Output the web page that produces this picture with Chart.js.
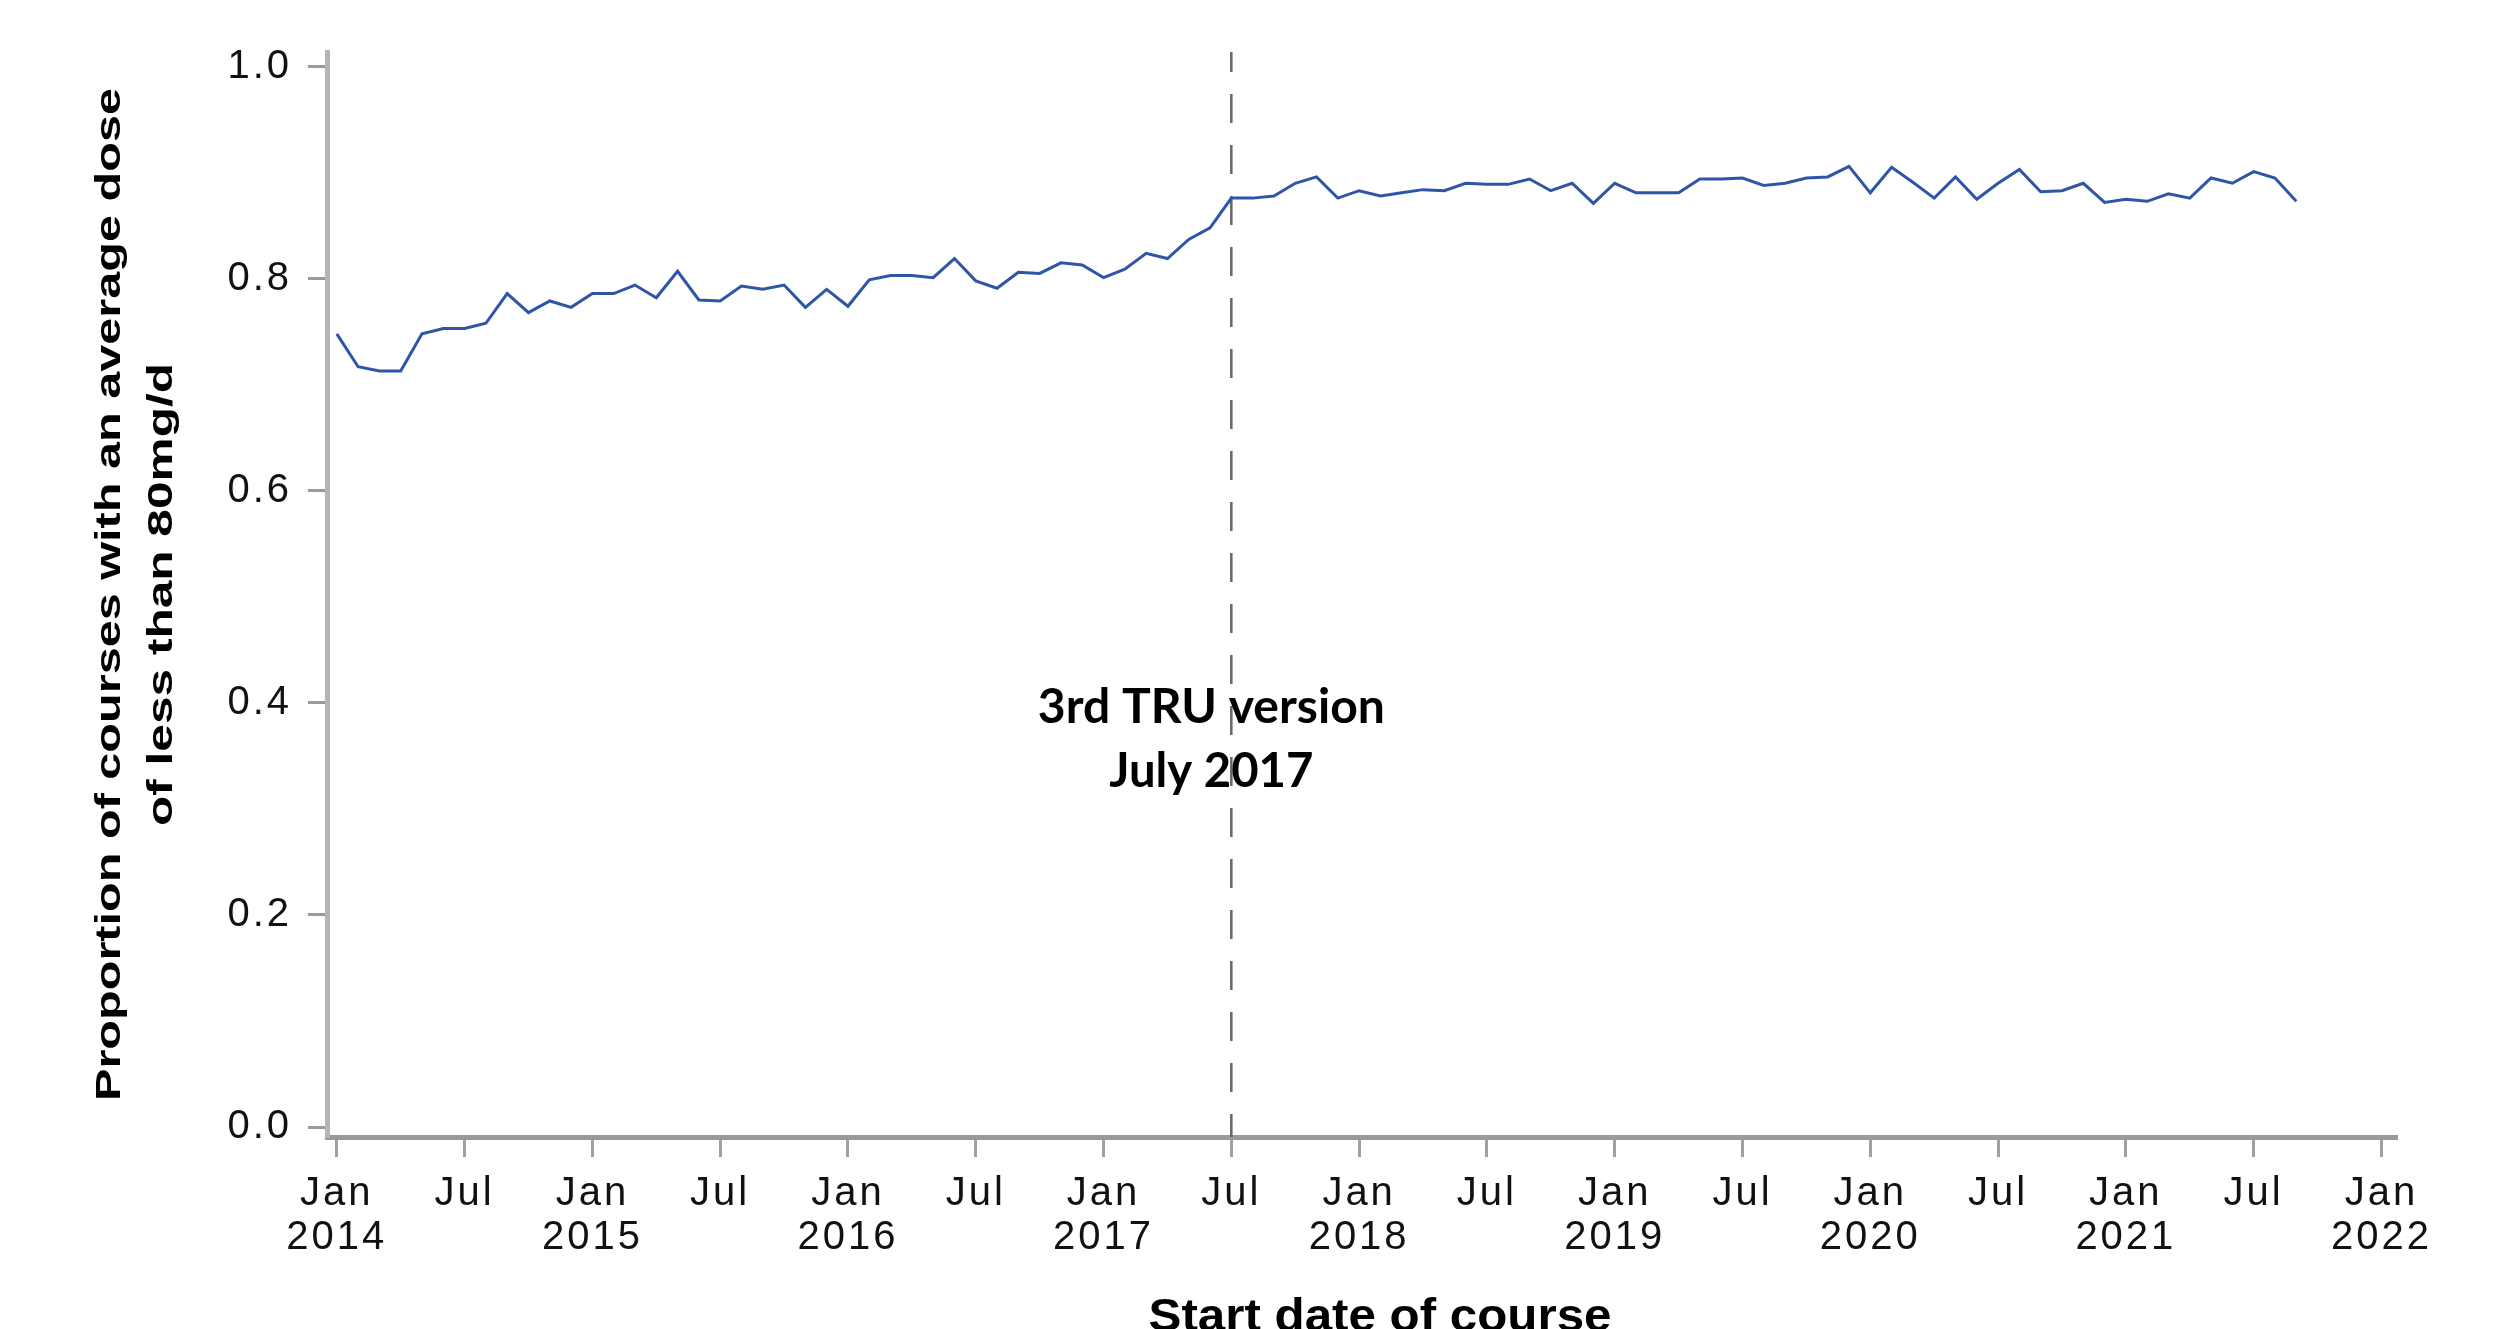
<!DOCTYPE html>
<html>
<head>
<meta charset="utf-8">
<script src="https://cdn.jsdelivr.net/npm/chart.js@4.4.1/dist/chart.umd.min.js"></script>
<style>
  html, body { margin: 0; padding: 0; background: #fff; }
  #wrap { width: 2503px; height: 1329px; position: relative; }
</style>
</head>
<body>
<div id="wrap"><canvas id="doseChart"></canvas></div>
<script>
// months counted from Jan 2014 (0 = Jan 2014)
const firstYear = 2014;
const proportion = [
    0.748, 0.717, 0.713, 0.713, 0.748, 0.753, 0.753, 0.758, 0.786, 0.768, 0.779, 0.773,
    0.786, 0.786, 0.794, 0.782, 0.807, 0.780, 0.779, 0.793, 0.790, 0.794, 0.773, 0.790,
    0.774, 0.799, 0.803, 0.803, 0.801, 0.819, 0.798, 0.791, 0.806, 0.805, 0.815, 0.813,
    0.801, 0.809, 0.824, 0.819, 0.837, 0.848, 0.876, 0.876, 0.878, 0.890, 0.896, 0.876,
    0.883, 0.878, 0.881, 0.884, 0.883, 0.890, 0.889, 0.889, 0.894, 0.883, 0.890, 0.871,
    0.890, 0.881, 0.881, 0.881, 0.894, 0.894, 0.895, 0.888, 0.890, 0.895, 0.896, 0.906,
    0.881, 0.905, 0.891, 0.876, 0.896, 0.875, 0.890, 0.903, 0.882, 0.883, 0.890, 0.872,
    0.875, 0.873, 0.880, 0.876, 0.895, 0.890, 0.901, 0.895, 0.873
];
const xTickMonths = [0, 6, 12, 18, 24, 30, 36, 42, 48, 54, 60, 66, 72, 78, 84, 90, 96];
const yTickValues = [0, 0.2, 0.4, 0.6, 0.8, 1.0];
const versionMonth = 42; // July 2017
const versionLabel = ["3rd TRU version", "July 2017"];
const yTitle = ["Proportion of courses with an average dose", "of less than 80mg/d"];
const xTitle = "Start date of course";

const points = proportion.map((v, i) => ({ x: i, y: v }));

// draws text squeezed/stretched horizontally to a target width
function fitText(ctx, text, x, y, width) {
    const w = ctx.measureText(text).width;
    ctx.save();
    ctx.translate(x, y);
    ctx.scale(width / w, 1);
    ctx.fillText(text, 0, 0);
    ctx.restore();
}

const extrasPlugin = {
    id: "extras",
    beforeDraw: (chart) => {
        chart.ctx.letterSpacing = "3px";
    },
    beforeDatasetsDraw: (chart) => {
        const { ctx, chartArea } = chart;
        const x = chart.scales.x.getPixelForValue(versionMonth);
        ctx.save();
        ctx.strokeStyle = "#666";
        ctx.lineWidth = 2.5;
        ctx.setLineDash([29, 22]);
        ctx.lineDashOffset = 9;
        ctx.beginPath();
        ctx.moveTo(x, chartArea.top);
        ctx.lineTo(x, chartArea.bottom);
        ctx.stroke();
        ctx.restore();
    },
    afterDraw: (chart) => {
        const { ctx, chartArea } = chart;
        const vx = chart.scales.x.getPixelForValue(versionMonth);
        ctx.save();
        ctx.letterSpacing = "0px";
        ctx.fillStyle = "#000";
        ctx.textAlign = "center";
        ctx.textBaseline = "alphabetic";

        // annotation
        ctx.font = "bold 48px Lato";
        fitText(ctx, versionLabel[0], vx - 20, 723, 347);
        fitText(ctx, versionLabel[1], vx - 20, 787, 204);

        // y axis title (rotated)
        const cy = (chartArea.top + chartArea.bottom) / 2;
        ctx.font = "bold 35px 'Liberation Sans', Arial";
        ctx.save();
        ctx.translate(120, cy);
        ctx.rotate(-Math.PI / 2);
        fitText(ctx, yTitle[0], 0, 0, 1013);
        ctx.restore();
        ctx.save();
        ctx.translate(172, cy);
        ctx.rotate(-Math.PI / 2);
        fitText(ctx, yTitle[1], 0, 0, 463);
        ctx.restore();

        // x axis title
        ctx.font = "bold 46px 'Liberation Sans', Arial";
        fitText(ctx, xTitle, 1380, 1331, 463);
        ctx.restore();
    },
};

const ctx = document.getElementById("doseChart").getContext("2d");
new Chart(ctx, {
    type: "line",
    plugins: [extrasPlugin],
    data: {
        datasets: [
            {
                data: points,
                borderColor: "#2f55a6",
                borderWidth: 3,
                pointRadius: 0,
                tension: 0,
                fill: false,
            },
        ],
    },
    options: {
        responsive: true,
        maintainAspectRatio: false,
        animation: false,
        devicePixelRatio: 1,
        layout: { padding: { top: 52, right: 106, left: 0, bottom: 0 } },
        plugins: {
            legend: { display: false },
            tooltip: { enabled: false },
        },
        scales: {
            x: {
                type: "linear",
                min: -0.46,
                max: 96.73,
                afterBuildTicks: (scale) => {
                    scale.ticks = xTickMonths.map((v) => ({ value: v }));
                },
                afterFit: (scale) => {
                    scale.height = 192;
                },
                grid: {
                    drawOnChartArea: false,
                    drawTicks: true,
                    tickLength: 20,
                    tickColor: "#a0a0a0",
                    tickWidth: 3,
                },
                border: { display: true, color: "#9a9a9a", width: 5 },
                ticks: {
                    autoSkip: false,
                    maxRotation: 0,
                    padding: 15,
                    color: "#111",
                    font: { family: "'Liberation Sans', Arial", size: 40, lineHeight: 1.1 },
                    callback: (v) => {
                        if (v % 12 === 0) return ["Jan", String(firstYear + v / 12)];
                        return "Jul";
                    },
                },
            },
            y: {
                min: -0.0094,
                max: 1.0138,
                afterBuildTicks: (scale) => {
                    scale.ticks = yTickValues.map((v) => ({ value: v }));
                },
                afterFit: (scale) => {
                    scale.width = 327;
                },
                grid: {
                    drawOnChartArea: false,
                    drawTicks: true,
                    tickLength: 19,
                    tickColor: "#9a9a9a",
                    tickWidth: 3,
                },
                border: { display: true, color: "#b4b4b4", width: 5 },
                ticks: {
                    padding: 16,
                    color: "#111",
                    font: { family: "'Liberation Sans', Arial", size: 40 },
                    callback: (v) => v.toFixed(1),
                },
            },
        },
    },
});
</script>
</body>
</html>
